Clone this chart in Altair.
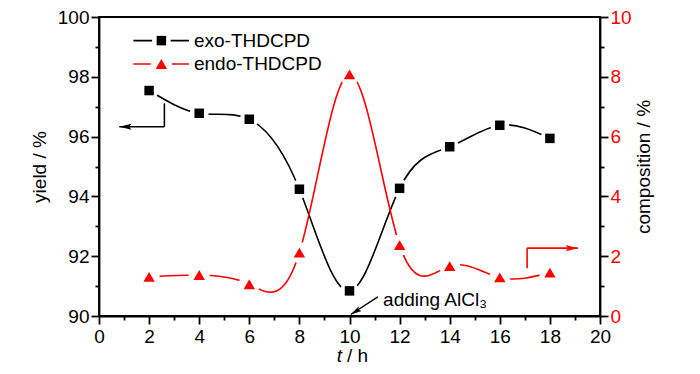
import altair as alt
import pandas as pd

# ---- data ----
hours = [2, 4, 6, 8, 10, 12, 14, 16, 18]
exo_yield = [97.54, 96.78, 96.58, 94.24, 90.84, 94.27, 95.66, 96.38, 95.94]
endo_comp = [1.31, 1.37, 1.06, 2.12, 8.08, 2.37, 1.67, 1.29, 1.45]

series_names = ["exo-THDCPD", "endo-THDCPD"]
series_colors = ["black", "red"]
series_shapes = ["square", "triangle-up"]
series_sizes = [90, 130]
halo_sizes = [350, 450]

x_ticks = list(range(0, 21))
yield_ticks = list(range(90, 101))
comp_ticks = list(range(0, 11))

# legend / annotation anchor positions (data coordinates)
legend_x = [1.37, 3.59, 2.49, 3.79]   # line start, line end, marker, text
legend_y = [99.21, 98.43]

left_arrow_x = [2.61, 2.61, 0.81]
left_arrow_y = [97.11, 96.33, 96.33]
right_arrow_x = [17.09, 17.09, 19.12]
right_arrow_y = [1.60, 2.27, 2.27]
note_arrow = [11.13, 90.64, 10.05, 90.05]
note_text = ["adding AlCl₃"]
note_pos = [11.34, 90.33]

FONT = "Liberation Sans"
FS = 19
W, H = 501, 299

main_df = pd.DataFrame({"t": hours, "exo": exo_yield, "endo": endo_comp})

def tick_size():
    return {"condition": {"test": "datum.value % 2 === 0", "value": 8}, "value": 4}

even_labels = "datum.value % 2 === 0 ? datum.label : ''"

x_axis = alt.Axis(values=x_ticks, labelExpr=even_labels, tickSize=tick_size(),
                  title=None, labelPadding=3, labelFlush=False)
x_scale = alt.Scale(domain=[0, 20], nice=False, zero=False)

y_axis = alt.Axis(values=yield_ticks, labelExpr=even_labels, tickSize=tick_size(),
                  title="yield / %", titlePadding=8, labelPadding=2, labelFlush=False)
y_scale = alt.Scale(domain=[90, 100], nice=False, zero=False)

c_axis = alt.Axis(values=comp_ticks, labelExpr=even_labels, tickSize=tick_size(),
                  orient="right", title="composition / %", titleAngle=270,
                  titlePadding=22, labelPadding=2, labelColor="red", labelFlush=False)
c_scale = alt.Scale(domain=[0, 10], nice=False, zero=False)


def X(field):
    return alt.X(field, type="quantitative", scale=x_scale, axis=x_axis)


def Y(field):
    return alt.Y(field, type="quantitative", scale=y_scale, axis=y_axis)


def C(field):
    return alt.Y(field, type="quantitative", scale=c_scale, axis=c_axis)


base = alt.Chart(main_df)

# ---- yield (exo) group ----
exo_line = base.mark_line(color="black", strokeWidth=1.6, interpolate="natural").encode(
    x=X("t"), y=Y("exo"))
exo_halo = base.mark_point(shape="circle", filled=True, color="white", opacity=1,
                           size=halo_sizes[0]).encode(x=X("t"), y=Y("exo"))
exo_pts = base.mark_point(shape=series_shapes[0], filled=True, color="black", opacity=1,
                          size=series_sizes[0]).encode(x=X("t"), y=Y("exo"))

legend_df = pd.DataFrame({
    "name": series_names, "color": series_colors, "shape": series_shapes,
    "size": series_sizes, "halo": halo_sizes,
    "x1": [legend_x[0]] * 2, "x2": [legend_x[1]] * 2,
    "xm": [legend_x[2]] * 2, "xt": [legend_x[3]] * 2, "y": legend_y,
})
lg = alt.Chart(legend_df)
lg_line = lg.mark_rule(strokeWidth=1.6).encode(
    x=X("x1"), x2="x2", y=Y("y"), color=alt.Color("color:N", scale=None))
lg_halo = lg.mark_point(shape="circle", filled=True, color="white", opacity=1).encode(
    x=X("xm"), y=Y("y"), size=alt.Size("halo:Q", scale=None))
lg_pts = lg.mark_point(filled=True, opacity=1).encode(
    x=X("xm"), y=Y("y"), color=alt.Color("color:N", scale=None),
    shape=alt.Shape("shape:N", scale=None), size=alt.Size("size:Q", scale=None))
lg_text = lg.mark_text(align="left", baseline="middle", font=FONT, fontSize=FS,
                       color="black").encode(x=X("xt"), y=Y("y"), text="name:N")

# left arrow (exo -> left axis)
la_df = pd.DataFrame({"x": left_arrow_x[:2], "x2": left_arrow_x[1:],
                      "y": left_arrow_y[:2], "y2": left_arrow_y[1:]})
la_rule = alt.Chart(la_df).mark_rule(color="black", strokeWidth=1.6).encode(
    x=X("x"), x2="x2", y=Y("y"), y2="y2")
head_path = "M0,0 L0.25,1 L0,0.8 L-0.25,1 Z"
la_head = alt.Chart(pd.DataFrame({"x": [left_arrow_x[2]], "y": [left_arrow_y[2]]})).mark_point(
    shape=head_path, filled=True, color="black", opacity=1, size=600, angle=270).encode(
    x=X("x"), y=Y("y"))

# note arrow "adding AlCl3"
na_df = pd.DataFrame({"x": [note_arrow[0]], "y": [note_arrow[1]],
                      "x2": [note_arrow[2]], "y2": [note_arrow[3]]})
na_rule = alt.Chart(na_df).mark_rule(color="black", strokeWidth=1.4).encode(
    x=X("x"), x2="x2", y=Y("y"), y2="y2")
na_head = alt.Chart(pd.DataFrame({"x": [note_arrow[2]], "y": [note_arrow[3]]})).mark_point(
    shape=head_path, filled=True, color="black", opacity=1, size=500, angle=238).encode(
    x=X("x"), y=Y("y"))
na_text = alt.Chart(pd.DataFrame({"x": [note_pos[0]], "y": [note_pos[1]], "s": note_text})).mark_text(
    align="left", baseline="alphabetic", font=FONT, fontSize=FS, color="black").encode(
    x=X("x"), y=Y("y"), text="s:N")

# x axis title "t / h" with italic t
xt_df = pd.DataFrame({"x": [9.7, 9.9], "s": ["t", "/ h"]})
xt_t = alt.Chart(xt_df.iloc[[0]]).mark_text(
    align="right", baseline="alphabetic", font=FONT, fontSize=FS, fontStyle="italic",
    color="black").encode(x=X("x"), y=alt.value(H + 46), text="s:N")
xt_h = alt.Chart(xt_df.iloc[[1]]).mark_text(
    align="left", baseline="alphabetic", font=FONT, fontSize=FS,
    color="black").encode(x=X("x"), y=alt.value(H + 46), text="s:N")

yield_group = alt.layer(exo_line, exo_halo, exo_pts, lg_line, lg_halo, lg_pts, lg_text,
                        la_rule, la_head, na_rule, na_head, na_text, xt_t, xt_h)

# ---- composition (endo) group ----
endo_line = base.mark_line(color="red", strokeWidth=1.6, interpolate="natural").encode(
    x=X("t"), y=C("endo"))
endo_halo = base.mark_point(shape="circle", filled=True, color="white", opacity=1,
                            size=halo_sizes[1]).encode(x=X("t"), y=C("endo"))
endo_pts = base.mark_point(shape=series_shapes[1], filled=True, color="red", opacity=1,
                           size=series_sizes[1]).encode(x=X("t"), y=C("endo"))

ra_df = pd.DataFrame({"x": right_arrow_x[:2], "x2": right_arrow_x[1:],
                      "y": right_arrow_y[:2], "y2": right_arrow_y[1:]})
ra_rule = alt.Chart(ra_df).mark_rule(color="red", strokeWidth=1.6).encode(
    x=X("x"), x2="x2", y=C("y"), y2="y2")
ra_head = alt.Chart(pd.DataFrame({"x": [right_arrow_x[2]], "y": [right_arrow_y[2]]})).mark_point(
    shape=head_path, filled=True, color="red", opacity=1, size=600, angle=90).encode(
    x=X("x"), y=C("y"))

comp_group = alt.layer(endo_line, endo_halo, endo_pts, ra_rule, ra_head)

chart = alt.layer(yield_group, comp_group).resolve_scale(y="independent").properties(
    width=W, height=H,
    autosize=alt.AutoSizeParams(type="none"),
    padding={"left": 91, "top": 9, "right": 92, "bottom": 50},
    background="white",
).configure_view(
    stroke="black", strokeWidth=1.8
).configure_axis(
    labelFont=FONT, labelFontSize=FS, titleFont=FONT, titleFontSize=FS,
    titleFontWeight="normal", titleColor="black",
    domainColor="black", domainWidth=1.8, tickColor="black", tickWidth=1.8,
    grid=False,
)

chart.save("out.html", embed_options={"renderer": "svg", "actions": False})
